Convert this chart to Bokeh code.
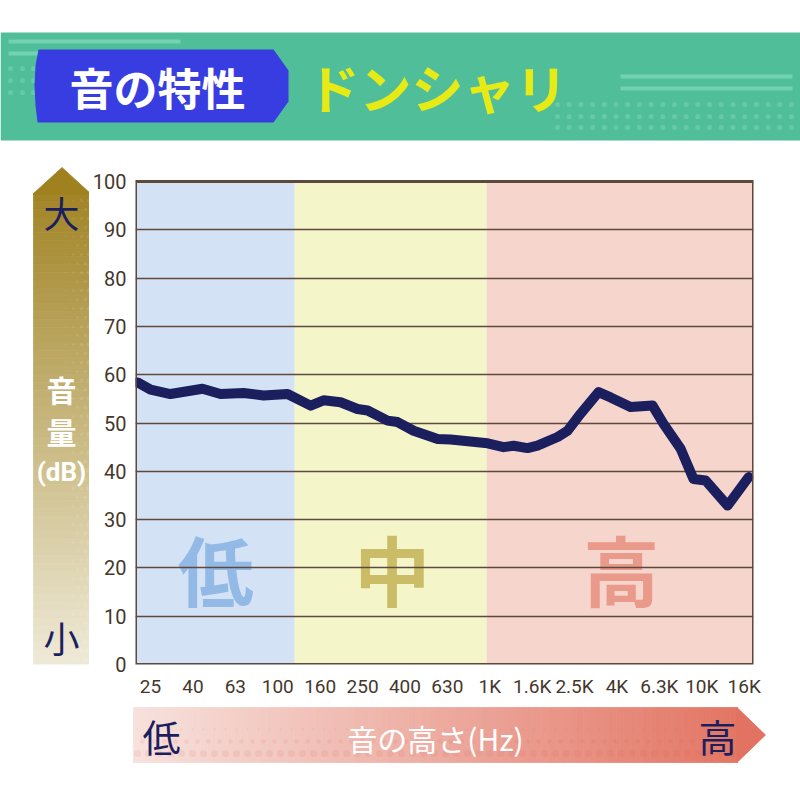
from bokeh.plotting import figure
from bokeh.layouts import column, row
from bokeh.models import Range1d, FixedTicker, BoxAnnotation
from bokeh.core.properties import value
from bokeh.embed import file_html
from bokeh.resources import INLINE

# ---------------- data ----------------
# x positions are in 1/3-octave steps counted from 25 Hz (0 = 25 Hz, 28 = 16 kHz)
tick_pos = [0, 2, 4, 6, 8, 10, 12, 14, 16, 18, 20, 22, 24, 26, 28]
freq_labels = ["25", "40", "63", "100", "160", "250", "400", "630",
               "1K", "1.6K", "2.5K", "4K", "6.3K", "10K", "16K"]
y_ticks = [0, 10, 20, 30, 40, 50, 60, 70, 80, 90, 100]

x_pos = [-0.61, 0.0, 0.94, 2.45, 3.30, 4.39, 5.33, 6.46, 7.55, 8.16, 8.96,
         9.76, 10.24, 11.18, 11.65, 12.41, 13.54, 14.15, 15.90, 16.65, 17.12,
         17.78, 18.25, 19.20, 19.67, 20.28, 21.13, 21.70, 22.64, 23.68, 24.20,
         25.00, 25.61, 26.18, 27.22, 28.21]
level_db = [58.4, 56.9, 56.0, 57.1, 56.0, 56.2, 55.7, 56.0, 53.6, 54.7, 54.3,
            52.9, 52.6, 50.5, 50.2, 48.4, 46.7, 46.6, 45.8, 45.0, 45.3,
            44.8, 45.3, 47.1, 48.4, 51.9, 56.4, 55.3, 53.3, 53.6, 49.8,
            44.7, 38.4, 38.1, 32.9, 38.8]

band_names = ["低", "中", "高"]
band_start = [-0.71, 6.8, 15.85]
band_end = [6.8, 15.85, 28.44]
band_fill = ["#d3e3f5", "#f4f6c9", "#f6d5cd"]
band_text_color = ["#93b9e6", "#cbbd68", "#e99a8b"]
band_label_x = [3.07, 11.4, 22.2]
band_label_y = [20.0, 20.0, 20.0]

X_MIN, X_MAX = -0.71, 28.44
Y_MIN, Y_MAX = 0, 100
# the frame reaches a little above 100 so that the side arrow (same frame) has room for its tip
Y_TOP = Y_MAX * (664 - 165) / (664 - 181)

CJK = "Noto Sans CJK JP"
LAT = "Roboto"
NAVY = "#1c1f5e"
BROWN = "#5e4a3c"


def lerp(c1, c2, t):
    t = max(0.0, min(1.0, t))
    return "#%02x%02x%02x" % tuple(int(round(a + (b - a) * t)) for a, b in zip(c1, c2))


def blank(width, height, xr, yr):
    f = figure(width=width, height=height, x_range=Range1d(*xr), y_range=Range1d(*yr),
               output_backend="svg", toolbar_location=None, min_border=0,
               background_fill_color="white", border_fill_color="white",
               outline_line_color=None)
    f.axis.visible = False
    f.grid.visible = False
    return f


# ---------------- header (page y 0..150) ----------------
hdr = blank(800, 150, (0, 800), (150, 0))
hdr.quad(left=[0], right=[800], top=[32], bottom=[140], fill_color="#50bf99", line_color=None)
hdr.segment(x0=[8, 8, 620, 620], y0=[41, 53, 76, 88], x1=[180, 40, 792, 792], y1=[41, 53, 76, 88],
            line_color="#72d2b3", line_width=4)
dx, dy = [], []
for yy in [68, 80, 92]:
    for xx in [10, 22, 33]:
        dx.append(xx); dy.append(yy)
for yy in [104, 116, 127]:
    xx = 557.0
    while xx < 792:
        dx.append(xx); dy.append(yy)
        xx += 11.7
hdr.scatter(dx, dy, size=5, fill_color="#66caa7", line_color=None)
hdr.patch(x=[38, 273, 288, 288, 273, 37, 35, 34, 35],
          y=[49, 49, 70, 101, 122, 122, 105, 85, 65],
          fill_color="#383de2", line_color=None)
hdr.text(x=[157], y=[86], text=["音の特性"], text_font=value(CJK), text_font_style="bold",
         text_font_size="44px", text_color="white", text_align="center", text_baseline="middle")
hdr.text(x=[437], y=[86], text=["ドンシャリ"], text_font=value(CJK), text_font_style="bold",
         text_font_size="52px", text_color="#e8ea16", text_align="center", text_baseline="middle")

# ---------------- left arrow (page x 0..89); its frame is aligned with the chart frame (165..664)
lft = blank(89, 552, (0, 89), (664, 165))
top_c, bot_c = (157, 127, 28), (239, 234, 216)
n = 60
y0, y1 = 193.0, 665.0
h = (y1 - y0) / n
qt, qb, qc = [], [], []
for i in range(n):
    a = y0 + i * h
    qt.append(a); qb.append(a + h)
    qc.append(lerp(top_c, bot_c, (a + h / 2 - 167) / (665 - 167)))
lft.quad(left=33, right=90, top=qt, bottom=qb, fill_color=qc, line_color=qc, line_width=0.8)
head_c = lerp(top_c, bot_c, 0.02)
lft.patch(x=[33, 90, 90, 61.5, 33], y=[194, 194, 193, 167, 193],
          fill_color=head_c, line_color=head_c, line_width=0.8)
# faint halftone dots on the right side of the arrow
ddx, ddy, dds = [], [], []
for j, yy in enumerate(range(200, 660, 9)):
    for k, xx in enumerate([65, 73, 81, 88]):
        s = 1.5 + 5.0 * (k / 3.0) * (0.4 + 0.6 * (yy - 200) / 460)
        ddx.append(xx + (4 if j % 2 else 0)); ddy.append(yy); dds.append(s)
lft.scatter(ddx, ddy, size=dds, fill_color="white", fill_alpha=0.10, line_color=None)
lft.text(x=[61, 61], y=[211, 636], text=["大", "小"], text_font=value(CJK),
         text_font_size="36px", text_color=NAVY, text_align="center", text_baseline="middle")
lft.text(x=[61, 61], y=[388, 430], text=["音", "量"], text_font=value(CJK), text_font_style="bold",
         text_font_size="30px", text_color="white", text_align="center", text_baseline="middle")
lft.text(x=[61], y=[471], text=["(dB)"], text_font=value(LAT), text_font_style="bold",
         text_font_size="26px", text_color="white", text_align="center", text_baseline="middle")

# ---------------- main chart (page x 89..800, y 150..702) ----------------
p = figure(width=711, height=552, x_range=Range1d(X_MIN, X_MAX), y_range=Range1d(Y_MIN, Y_TOP),
           output_backend="svg", toolbar_location=None,
           min_border_left=46, min_border_right=47, min_border_top=15, min_border_bottom=38,
           background_fill_color="white", border_fill_color="white",
           outline_line_color=None)

p.quad(left=band_start, right=band_end, bottom=Y_MIN, top=Y_MAX, fill_color=band_fill,
       line_color=None, level="image")
p.text(x=band_label_x, y=band_label_y, text=band_names, text_font=value(CJK),
       text_font_style="bold", text_font_size="76px", text_color=band_text_color,
       text_align="center", text_baseline="middle", level="image")

p.line(x_pos, level_db, line_width=10, line_color=NAVY, line_join="round", line_cap="round")

# plot-area border
p.add_layout(BoxAnnotation(left=X_MIN, right=X_MAX, bottom=Y_MIN, top=Y_MAX,
                           fill_color=None, fill_alpha=0, line_color=BROWN, line_width=3,
                           line_alpha=1.0))

p.xgrid.visible = False
p.ygrid.ticker = FixedTicker(ticks=y_ticks)
p.ygrid.grid_line_color = BROWN
p.ygrid.grid_line_width = 1.6

p.yaxis.ticker = FixedTicker(ticks=y_ticks)
p.xaxis.ticker = FixedTicker(ticks=tick_pos)
p.xaxis.major_label_overrides = {t: lab for t, lab in zip(tick_pos, freq_labels)}
for ax in [p.xaxis[0], p.yaxis[0]]:
    ax.axis_line_color = None
    ax.major_tick_line_color = None
    ax.minor_tick_line_color = None
    ax.major_tick_out = 0
    ax.major_tick_in = 0
    ax.minor_tick_out = 0
    ax.major_label_text_font = LAT
    ax.major_label_text_color = "#45372c"
p.yaxis.major_label_text_font_size = "20px"
p.yaxis.major_label_standoff = 9
p.xaxis.major_label_text_font_size = "19px"
p.xaxis.major_label_standoff = 10

# ---------------- bottom arrow (page y 702..800) ----------------
bot = blank(800, 98, (0, 800), (800, 702))
l_c, r_c = (247, 226, 221), (226, 112, 94)
n = 90
x0, x1 = 133.0, 737.0
w = (x1 - x0) / n
bl, br, bc = [], [], []
for i in range(n):
    a = x0 + i * w
    bl.append(a); br.append(a + w)
    bc.append(lerp(l_c, r_c, (a + w / 2 - 133) / (765 - 133)))
bot.quad(left=bl, right=br, top=707, bottom=762, fill_color=bc, line_color=bc, line_width=0.8)
bot.patch(x=[736.5, 765, 736.5], y=[707, 734.5, 762], fill_color=lerp(l_c, r_c, 0.98),
          line_color=lerp(l_c, r_c, 0.98), line_width=0.8)
# faint halftone dots along the lower part of the arrow
bdx, bdy, bds = [], [], []
for j, yy in enumerate([729, 741, 753]):
    xx = 137.0 + (5 if j % 2 else 0)
    while xx < 735:
        bdx.append(xx); bdy.append(yy); bds.append(2.0 + 2.5 * j)
        xx += 11.0
bot.scatter(bdx, bdy, size=bds, fill_color="#d9574a", fill_alpha=0.10, line_color=None)
bot.text(x=[161, 717], y=[735, 735], text=["低", "高"], text_font=value(CJK),
         text_font_size="38px", text_color=NAVY, text_align="center", text_baseline="middle")
bot.text(x=[435], y=[737], text=["音の高さ(Hz)"], text_font=value(CJK),
         text_font_size="30px", text_color="white", text_align="center", text_baseline="middle")

layout = column(hdr, row(lft, p), bot)
open("out.html", "w").write(file_html(layout, INLINE))
